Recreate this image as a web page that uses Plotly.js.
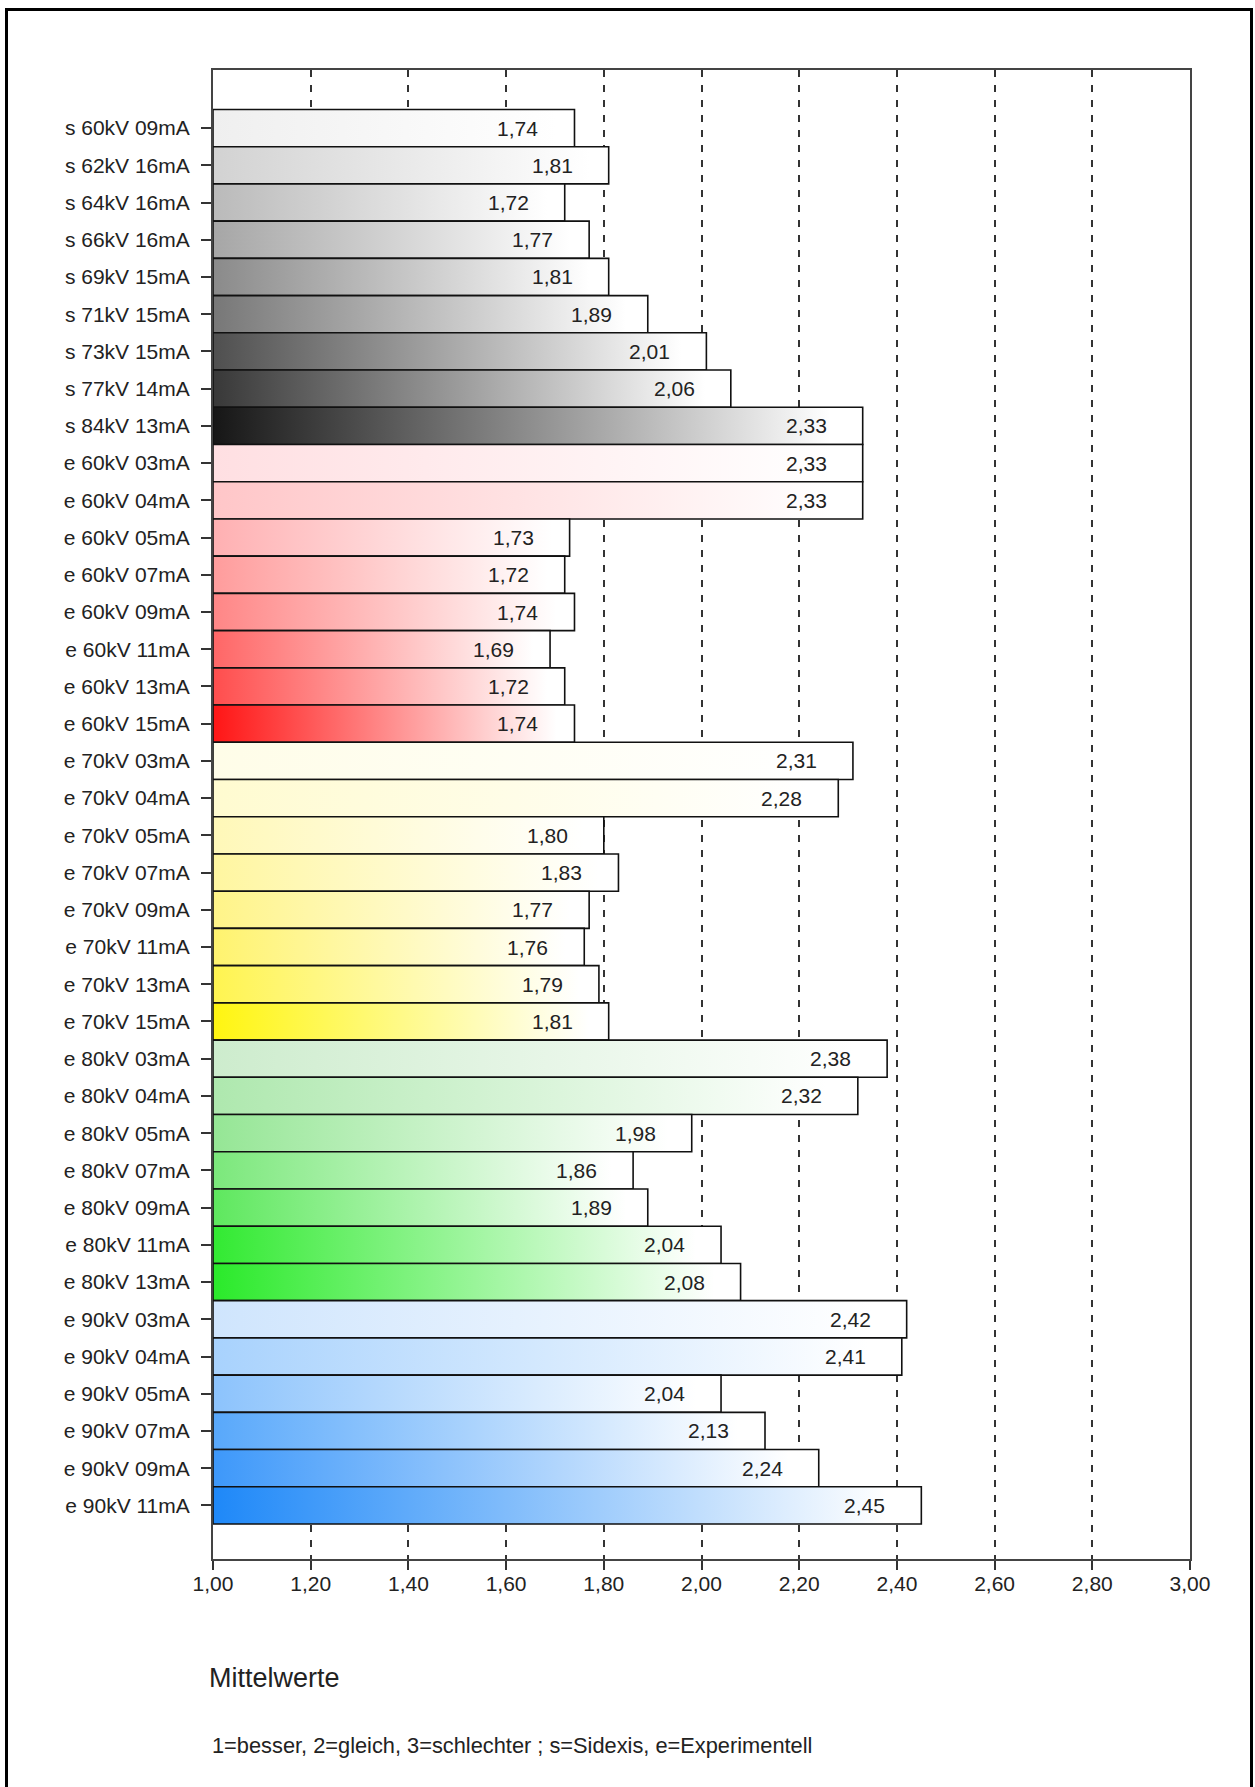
<!DOCTYPE html>
<html>
<head>
<meta charset="utf-8">
<script src="https://cdn.plot.ly/plotly-3.0.1.min.js"></script>
<style>
  body { margin: 0; background: #ffffff; }
  #wrap { position: relative; width: 1255px; height: 1787px; overflow: hidden; }
  #chart { position: absolute; left: 0; top: 0; width: 1255px; height: 1787px; }
  #frame { position: absolute; left: 5px; top: 8px; width: 1242px; height: 1820px;
           border: 3px solid #000; border-bottom: none; pointer-events: none; }
</style>
</head>
<body>
<div id="wrap"><div id="chart"></div><div id="frame"></div></div>
<script>
// ---- data ----
const categories = [
  "s 60kV 09mA", "s 62kV 16mA", "s 64kV 16mA", "s 66kV 16mA", "s 69kV 15mA",
  "s 71kV 15mA", "s 73kV 15mA", "s 77kV 14mA", "s 84kV 13mA",
  "e 60kV 03mA", "e 60kV 04mA", "e 60kV 05mA", "e 60kV 07mA", "e 60kV 09mA",
  "e 60kV 11mA", "e 60kV 13mA", "e 60kV 15mA",
  "e 70kV 03mA", "e 70kV 04mA", "e 70kV 05mA", "e 70kV 07mA", "e 70kV 09mA",
  "e 70kV 11mA", "e 70kV 13mA", "e 70kV 15mA",
  "e 80kV 03mA", "e 80kV 04mA", "e 80kV 05mA", "e 80kV 07mA", "e 80kV 09mA",
  "e 80kV 11mA", "e 80kV 13mA",
  "e 90kV 03mA", "e 90kV 04mA", "e 90kV 05mA", "e 90kV 07mA", "e 90kV 09mA",
  "e 90kV 11mA"
];
const values = [
  1.74, 1.81, 1.72, 1.77, 1.81, 1.89, 2.01, 2.06, 2.33,
  2.33, 2.33, 1.73, 1.72, 1.74, 1.69, 1.72, 1.74,
  2.31, 2.28, 1.80, 1.83, 1.77, 1.76, 1.79, 1.81,
  2.38, 2.32, 1.98, 1.86, 1.89, 2.04, 2.08,
  2.42, 2.41, 2.04, 2.13, 2.24, 2.45
];
const xTickValues = [1.0, 1.2, 1.4, 1.6, 1.8, 2.0, 2.2, 2.4, 2.6, 2.8, 3.0];
const axisBase = 1.0;
const chartTitle = "Mittelwerte";
const footnote = "1=besser, 2=gleich, 3=schlechter ; s=Sidexis, e=Experimentell";

// ---- style: left colour of each bar's gradient (fades to white) ----
const barStartColors = [
  "#efefef", "#d2d2d2", "#bababa", "#a6a6a6", "#8a8a8a", "#777777", "#4f4f4f", "#383838", "#161616",
  "#ffdfe2", "#ffc6c8", "#ffb0b2", "#ff9c9c", "#ff8686", "#ff6666", "#ff4d4d", "#ff1515",
  "#fffde8", "#fffbd0", "#fff8b8", "#fff6a0", "#fff488", "#fff36e", "#fff450", "#fff510",
  "#cdeccd", "#aee8ae", "#95e695", "#7be87b", "#5ee85e", "#32ea32", "#2aea2a",
  "#cfe5fd", "#a8d2fd", "#8cc3fc", "#58a8fb", "#3d98fa", "#1e88f8"
];

const FONT = "Liberation Sans, Arial, sans-serif";
const fmt = v => v.toFixed(2).replace(".", ",");

const trace = {
  type: "bar",
  orientation: "h",
  y: categories,
  x: values.map(v => v - axisBase),
  base: axisBase,
  width: 1,
  marker: { color: barStartColors, line: { color: "#111111", width: 1.6 } },
  hoverinfo: "skip",
  showlegend: false
};

const annotations = categories.map((c, i) => ({
  x: values[i], y: c, xref: "x", yref: "y",
  text: fmt(values[i]), showarrow: false,
  xanchor: "right", yanchor: "middle", xshift: -34,
  font: { family: FONT, size: 21, color: "#222" }
}));
annotations.push({
  xref: "paper", yref: "paper", x: 0, y: 0, xanchor: "left", yanchor: "middle",
  xshift: -3, yshift: -186, showarrow: false, text: footnote,
  font: { family: FONT, size: 21.8, color: "#222" }
});

const layout = {
  width: 1255, height: 1787,
  margin: { l: 213, r: 65, t: 70, b: 228, pad: 0 },
  paper_bgcolor: "#ffffff",
  plot_bgcolor: "#ffffff",
  separators: ",.",
  bargap: 0,
  font: { family: FONT, color: "#222" },
  title: {
    text: chartTitle, x: 209 / 1255, xanchor: "left", xref: "container",
    y: 1 - 1678 / 1787, yanchor: "middle", yref: "container",
    font: { family: FONT, size: 27, color: "#222" }
  },
  xaxis: {
    range: [1, 3], tickvals: xTickValues, tickformat: ".2f",
    showgrid: true, gridcolor: "#333", gridwidth: 2, griddash: "7px,8px",
    showline: true, linecolor: "#444", linewidth: 2, mirror: true,
    ticks: "outside", ticklen: 9, tickwidth: 2, tickcolor: "#333",
    ticklabelstandoff: -4,
    zeroline: false, fixedrange: true,
    tickfont: { family: FONT, size: 21, color: "#222" }
  },
  yaxis: {
    type: "category", range: [38.44, -1.56],
    showgrid: false, showline: true, linecolor: "#444", linewidth: 2, mirror: true,
    ticks: "outside", ticklen: 10, tickwidth: 2, tickcolor: "#333",
    ticklabelstandoff: 7, fixedrange: true,
    tickfont: { family: FONT, size: 21, color: "#222" }
  },
  annotations: annotations
};

Plotly.newPlot("chart", [trace], layout, { displayModeBar: false, staticPlot: true }).then(gd => {
  // horizontal colour-to-white gradients for each bar
  const svg = gd.querySelector("svg.main-svg");
  const NS = "http://www.w3.org/2000/svg";
  let defs = svg.querySelector("defs");
  if (!defs) { defs = document.createElementNS(NS, "defs"); svg.insertBefore(defs, svg.firstChild); }
  const paths = gd.querySelectorAll(".barlayer .trace .point path");
  paths.forEach((p, i) => {
    const g = document.createElementNS(NS, "linearGradient");
    g.setAttribute("id", "bargrad" + i);
    g.setAttribute("x1", "0"); g.setAttribute("y1", "0");
    g.setAttribute("x2", "1"); g.setAttribute("y2", "0");
    const s1 = document.createElementNS(NS, "stop");
    s1.setAttribute("offset", "0"); s1.setAttribute("stop-color", barStartColors[i]);
    const s2 = document.createElementNS(NS, "stop");
    s2.setAttribute("offset", "0.95"); s2.setAttribute("stop-color", "#ffffff");
    g.appendChild(s1); g.appendChild(s2);
    defs.appendChild(g);
    p.style.fill = "url(#bargrad" + i + ")";
  });
});
</script>
</body>
</html>
